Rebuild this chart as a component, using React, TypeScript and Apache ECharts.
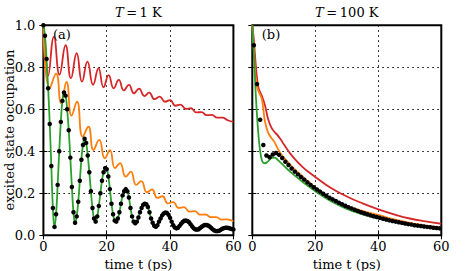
import React, { useEffect, useRef } from "react";
import * as echarts from "echarts";

const FONT = "DejaVu Serif";
const RED = "#d62728";
const ORANGE = "#ff7f0e";
const GREEN = "#2ca02c";

// ---------- panel (a): T = 1 K ----------
const redA_t = [0, 1.5, 3.3, 5.1, 7.0, 8.7, 10.5, 12.2, 13.9, 15.7, 17.4, 19.0, 20.6, 22.2, 23.8, 25.4, 27.0, 28.6, 30.2, 31.9, 33.4, 35.1, 36.7, 38.4, 40.0, 41.7, 43.3, 45.0, 46.6, 48.3, 49.9, 51.6, 53.2, 54.9, 56.5, 58.2, 60];
const redA_v = [1.0, 0.76, 0.945, 0.765, 0.905, 0.748, 0.867, 0.732, 0.827, 0.717, 0.795, 0.705, 0.763, 0.70, 0.74, 0.69, 0.716, 0.676, 0.698, 0.663, 0.679, 0.648, 0.66, 0.636, 0.644, 0.617, 0.622, 0.602, 0.605, 0.585, 0.587, 0.572, 0.573, 0.56, 0.56, 0.548, 0.54];

const orangeA_t = [0, 2.0, 4.0, 5.6, 7.3, 8.9, 10.6, 12.4, 14.2, 15.8, 17.6, 19.4, 21.0, 22.6, 24.2, 26.0, 27.6, 29.3, 30.9, 32.7, 34.3, 36.0, 37.6, 39.3, 41.0, 42.7, 44.4, 46.1, 47.8, 49.5, 51.2, 52.9, 54.6, 56.3, 58.0, 60];
const orangeA_v = [1.0, 0.70, 0.77, 0.63, 0.73, 0.57, 0.636, 0.47, 0.517, 0.406, 0.454, 0.367, 0.406, 0.32, 0.343, 0.279, 0.303, 0.24, 0.258, 0.205, 0.218, 0.178, 0.186, 0.152, 0.158, 0.13, 0.134, 0.113, 0.115, 0.098, 0.099, 0.086, 0.087, 0.075, 0.076, 0.066];

// sampled every 0.5 ps, t = 0 .. 60 (green line and black dots coincide)
const DT_A = 0.5;
const dotsA_v = [
  1.0, 0.95, 0.84, 0.70, 0.53, 0.33, 0.13, 0.04, 0.10, 0.24,
  0.40, 0.54, 0.64, 0.68, 0.665, 0.60, 0.50, 0.37, 0.23, 0.11,
  0.06, 0.09, 0.16, 0.26, 0.36, 0.43, 0.46, 0.44, 0.38, 0.30,
  0.21, 0.13, 0.08, 0.065, 0.09, 0.14, 0.20, 0.26, 0.30, 0.32,
  0.315, 0.28, 0.22, 0.15, 0.10, 0.07, 0.065, 0.08, 0.11, 0.15,
  0.19, 0.21, 0.22, 0.21, 0.18, 0.13, 0.09, 0.065, 0.057, 0.065,
  0.085, 0.11, 0.13, 0.145, 0.15, 0.148, 0.135, 0.11, 0.08, 0.06,
  0.045, 0.041, 0.048, 0.065, 0.08, 0.095, 0.104, 0.108, 0.107, 0.098,
  0.083, 0.065, 0.048, 0.037, 0.033, 0.036, 0.045, 0.055, 0.063, 0.069,
  0.07, 0.068, 0.062, 0.052, 0.042, 0.033, 0.028, 0.027, 0.029, 0.035,
  0.041, 0.046, 0.049, 0.049, 0.047, 0.042, 0.035, 0.028, 0.023, 0.02,
  0.02, 0.022, 0.026, 0.031, 0.034, 0.036, 0.036, 0.035, 0.032, 0.03,
  0.028,
];

// ---------- panel (b): T = 100 K ----------
const redB_t = [0, 0.5, 1, 1.5, 2, 3, 4, 5, 6, 7, 8, 9, 10, 12, 14, 16, 18, 20, 25, 30, 35, 40, 45, 50, 55, 60];
const redB_v = [1.0, 0.93, 0.83, 0.75, 0.70, 0.665, 0.62, 0.555, 0.515, 0.493, 0.477, 0.457, 0.433, 0.39, 0.355, 0.325, 0.30, 0.278, 0.225, 0.185, 0.152, 0.124, 0.10, 0.08, 0.066, 0.055];

const orangeB_t = [0, 0.5, 1, 1.5, 2, 3, 3.5, 4, 5, 6, 7, 8, 9, 10, 12, 14, 16, 18, 20, 25, 30, 35, 40, 45, 50, 55, 60];
const orangeB_v = [1.0, 0.88, 0.76, 0.71, 0.685, 0.65, 0.60, 0.545, 0.49, 0.465, 0.445, 0.415, 0.39, 0.37, 0.337, 0.307, 0.28, 0.253, 0.228, 0.175, 0.14, 0.116, 0.097, 0.076, 0.059, 0.046, 0.036];

const greenB_t = [0, 0.5, 1, 1.5, 2, 2.5, 3, 3.5, 4, 5, 6, 7, 8, 9, 10, 12, 14, 16, 18, 20, 25, 30, 35, 40, 45, 50, 55, 60];
const greenB_v = [1.0, 0.86, 0.70, 0.57, 0.47, 0.40, 0.36, 0.345, 0.343, 0.352, 0.367, 0.37, 0.36, 0.346, 0.332, 0.303, 0.278, 0.254, 0.232, 0.21, 0.162, 0.126, 0.1, 0.081, 0.064, 0.05, 0.039, 0.03];

// black dots every 1 ps starting at 0.5 ps
const DOT_B_START = 0.5;
const DT_B = 1.0;
const dotsB_v = [
  0.905, 0.72, 0.55, 0.43, 0.38, 0.372, 0.385, 0.392, 0.383, 0.368,
  0.35, 0.335, 0.318, 0.303, 0.29, 0.277, 0.265, 0.252, 0.24, 0.229,
  0.218, 0.208, 0.198, 0.188, 0.179, 0.171, 0.163, 0.155, 0.148, 0.141,
  0.134, 0.128, 0.122, 0.116, 0.11, 0.105, 0.1, 0.095, 0.091, 0.087,
  0.083, 0.079, 0.075, 0.071, 0.068, 0.065, 0.062, 0.059, 0.056, 0.053,
  0.051, 0.048, 0.046, 0.044, 0.042, 0.04, 0.038, 0.036, 0.035, 0.033,
];

const xTicks = [0, 20, 40, 60];
const yTicks = [0.0, 0.2, 0.4, 0.6, 0.8, 1.0];

const pairs = (t: number[], v: number[]) => t.map((x, i) => [x, v[i]]);

const GRID_TOP = 25.3;
const GRID_H = 210;

function App() {
  const ref = useRef<HTMLDivElement>(null);
  useEffect(() => {
    const chart = echarts.init(ref.current!, null, { renderer: "svg" });

    const tickStyle = { inside: true, length: 4, lineStyle: { color: "#000", width: 1 } };
    const split = { show: true, lineStyle: { color: "#000", width: 1, type: [1.5, 3.5] } };
    const labelStyle = { color: "#000", fontFamily: FONT, fontSize: 13 };

    const xAxisFor = (g: number) => [
      {
        gridIndex: g, type: "value", min: xTicks[0], max: xTicks[xTicks.length - 1],
        interval: xTicks[1] - xTicks[0], position: "bottom",
        axisLine: { show: false }, axisTick: tickStyle,
        axisLabel: { ...labelStyle, margin: 5 },
        splitLine: split,
        name: "time t (ps)", nameLocation: "middle", nameGap: 17,
        nameTextStyle: { ...labelStyle },
      },
      {
        gridIndex: g, type: "value", min: xTicks[0], max: xTicks[xTicks.length - 1],
        interval: xTicks[1] - xTicks[0], position: "top",
        axisLine: { show: false }, axisTick: tickStyle,
        axisLabel: { show: false }, splitLine: { show: false },
      },
    ];
    const yAxisFor = (g: number, labels: boolean) => [
      {
        gridIndex: g, type: "value", min: yTicks[0], max: yTicks[yTicks.length - 1],
        interval: 0.2, position: "left",
        axisLine: { show: false }, axisTick: tickStyle,
        axisLabel: labels
          ? { ...labelStyle, margin: 8, formatter: (v: number) => v.toFixed(1) }
          : { show: false },
        splitLine: split,
      },
      {
        gridIndex: g, type: "value", min: yTicks[0], max: yTicks[yTicks.length - 1],
        interval: 0.2, position: "right",
        axisLine: { show: false }, axisTick: tickStyle,
        axisLabel: { show: false }, splitLine: { show: false },
      },
    ];

    const lineSeries = (xi: number, yi: number, data: number[][], color: string, z: number) => ({
      type: "line", xAxisIndex: xi, yAxisIndex: yi, data, smooth: 0.5,
      showSymbol: false, symbol: "none",
      lineStyle: { color, width: 1.8 }, z,
    });
    const dotSeries = (xi: number, yi: number, data: number[][], z: number) => ({
      type: "line", xAxisIndex: xi, yAxisIndex: yi, data,
      symbol: "circle", symbolSize: 4.5, showSymbol: true, showAllSymbol: true,
      itemStyle: { color: "#000" }, lineStyle: { width: 0, opacity: 0 }, z,
    });

    const dotsA = dotsA_v.map((v, i) => [i * DT_A, v]);
    const dotsB = dotsB_v.map((v, i) => [DOT_B_START + i * DT_B, v]);

    const titleRich = {
      i: { fontFamily: FONT, fontSize: 13, fontStyle: "italic", fill: "#000" },
      n: { fontFamily: FONT, fontSize: 13, fill: "#000" },
    };

    chart.setOption({
      animation: false,
      backgroundColor: "#fff",
      grid: [
        { left: 43.4, top: GRID_TOP, width: 190, height: GRID_H, show: true, borderColor: "#000", borderWidth: 2, backgroundColor: "transparent", containLabel: false, outerBoundsMode: "none" },
        { left: 252.3, top: GRID_TOP, width: 189, height: GRID_H, show: true, borderColor: "#000", borderWidth: 2, backgroundColor: "transparent", containLabel: false, outerBoundsMode: "none" },
      ],
      xAxis: [...xAxisFor(0), ...xAxisFor(1)],
      yAxis: [...yAxisFor(0, true), ...yAxisFor(1, false)],
      series: [
        lineSeries(0, 0, pairs(redA_t, redA_v), RED, 2),
        lineSeries(0, 0, pairs(orangeA_t, orangeA_v), ORANGE, 3),
        lineSeries(0, 0, dotsA, GREEN, 4),
        dotSeries(0, 0, dotsA, 5),
        lineSeries(2, 2, pairs(redB_t, redB_v), RED, 2),
        lineSeries(2, 2, pairs(orangeB_t, orangeB_v), ORANGE, 3),
        lineSeries(2, 2, pairs(greenB_t, greenB_v), GREEN, 4),
        dotSeries(2, 2, dotsB, 5),
      ],
      graphic: [
        {
          type: "text", x: 138.3, y: 12,
          style: { text: "{i|T}{n|\u2009=\u20091 K}", rich: titleRich, align: "center", verticalAlign: "middle" },
        },
        {
          type: "text", x: 346.8, y: 12,
          style: { text: "{i|T}{n|\u2009=\u2009100 K}", rich: titleRich, align: "center", verticalAlign: "middle" },
        },
        {
          type: "text", x: 62, y: 34,
          style: { text: "(a)", fontFamily: FONT, fontSize: 13, fill: "#000", align: "center", verticalAlign: "middle" },
          z: 10,
        },
        {
          type: "text", x: 271, y: 34,
          style: { text: "(b)", fontFamily: FONT, fontSize: 13, fill: "#000", align: "center", verticalAlign: "middle" },
          z: 10,
        },
        {
          type: "text", x: 9, y: 130, rotation: Math.PI / 2,
          style: { text: "excited state occupation", fontFamily: FONT, fontSize: 13, fill: "#000", align: "center", verticalAlign: "middle" },
        },
      ],
    });
    return () => chart.dispose();
  }, []);
  return <div ref={ref} style={{ position: "fixed", left: 0, top: 0, width: 474, height: 271 }} />;
}

export default App;
